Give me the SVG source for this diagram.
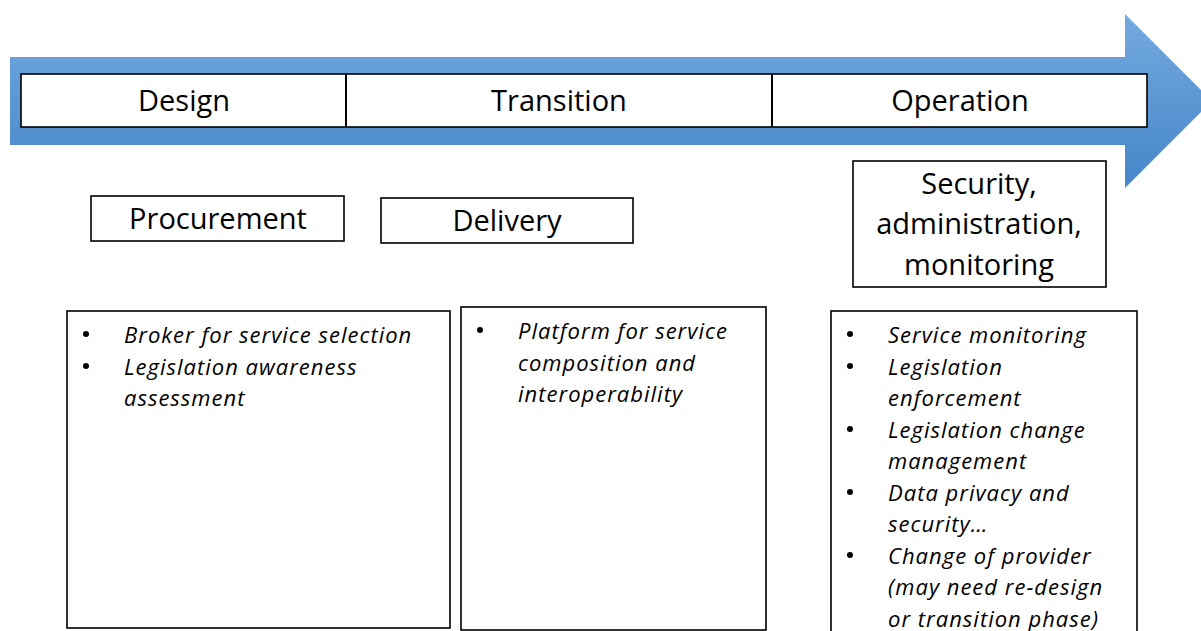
<svg xmlns="http://www.w3.org/2000/svg" width="1201" height="631" viewBox="0 0 1201 631">
  <style>
    .box { fill: #ffffff; stroke: #000000; stroke-width: 1.6; }
    .head { font-family: "Open Sans", "Noto Sans", sans-serif; font-size: 29px; fill: #000000; text-anchor: middle; }
    .item { font-family: "Open Sans", "Noto Sans", sans-serif; font-size: 22px; font-style: italic; letter-spacing: 1px; fill: #000000; }
    .dot { fill: #000000; }
  </style>
  <defs>
    <linearGradient id="arrowFill" gradientUnits="userSpaceOnUse" x1="0" y1="14" x2="0" y2="188">
      <stop offset="0" stop-color="#74aadf"/>
      <stop offset="1" stop-color="#4585c8"/>
    </linearGradient>
  </defs>

  <!-- timeline arrow -->
  <g id="timeline">
    <path d="M10,57 H1125 V14 L1212,101 L1125,188 V145 H10 Z" fill="url(#arrowFill)"/>
    <rect class="box" x="21" y="74" width="1126" height="53" stroke-width="2"/>
    <line x1="346" y1="74" x2="346" y2="127" stroke="#000" stroke-width="2"/>
    <line x1="772" y1="74" x2="772" y2="127" stroke="#000" stroke-width="2"/>
    <text class="head" x="184" y="111">Design</text>
    <text class="head" x="559" y="111">Transition</text>
    <text class="head" x="960" y="111">Operation</text>
  </g>

  <!-- phase activities -->
  <g id="procurement">
    <rect class="box" x="91" y="196" width="253" height="45"/>
    <text class="head" x="218" y="229">Procurement</text>
  </g>
  <g id="delivery">
    <rect class="box" x="381" y="198" width="252" height="45"/>
    <text class="head" x="507" y="231">Delivery</text>
  </g>
  <g id="security">
    <rect class="box" x="853" y="161" width="253" height="126"/>
    <text class="head" x="979" y="194">Security,</text>
    <text class="head" x="979" y="234">administration,</text>
    <text class="head" x="979" y="275">monitoring</text>
  </g>

  <!-- feature lists -->
  <g id="design-features">
    <rect class="box" x="67" y="311" width="383" height="317"/>
    <circle class="dot" cx="86" cy="334" r="3"/>
    <circle class="dot" cx="86" cy="366" r="3"/>
    <text class="item" x="124" y="343">Broker for service selection</text>
    <text class="item" x="124" y="374.5">Legislation awareness</text>
    <text class="item" x="124" y="406">assessment</text>
  </g>
  <g id="transition-features">
    <rect class="box" x="461" y="307" width="305" height="323"/>
    <circle class="dot" cx="480" cy="330" r="3"/>
    <text class="item" x="518" y="339">Platform for service</text>
    <text class="item" x="518" y="370.5">composition and</text>
    <text class="item" x="518" y="402">interoperability</text>
  </g>
  <g id="operation-features">
    <rect class="box" x="831" y="311" width="306" height="330"/>
    <circle class="dot" cx="850" cy="334" r="3"/>
    <circle class="dot" cx="850" cy="366" r="3"/>
    <circle class="dot" cx="850" cy="429" r="3"/>
    <circle class="dot" cx="850" cy="492" r="3"/>
    <circle class="dot" cx="850" cy="555" r="3"/>
    <text class="item" x="888" y="343">Service monitoring</text>
    <text class="item" x="888" y="374.5">Legislation</text>
    <text class="item" x="888" y="406">enforcement</text>
    <text class="item" x="888" y="437.5">Legislation change</text>
    <text class="item" x="888" y="469">management</text>
    <text class="item" x="888" y="500.5">Data privacy and</text>
    <text class="item" x="888" y="532">security…</text>
    <text class="item" x="888" y="563.5">Change of provider</text>
    <text class="item" x="888" y="595">(may need re-design</text>
    <text class="item" x="888" y="626.5">or transition phase)</text>
  </g>
</svg>
